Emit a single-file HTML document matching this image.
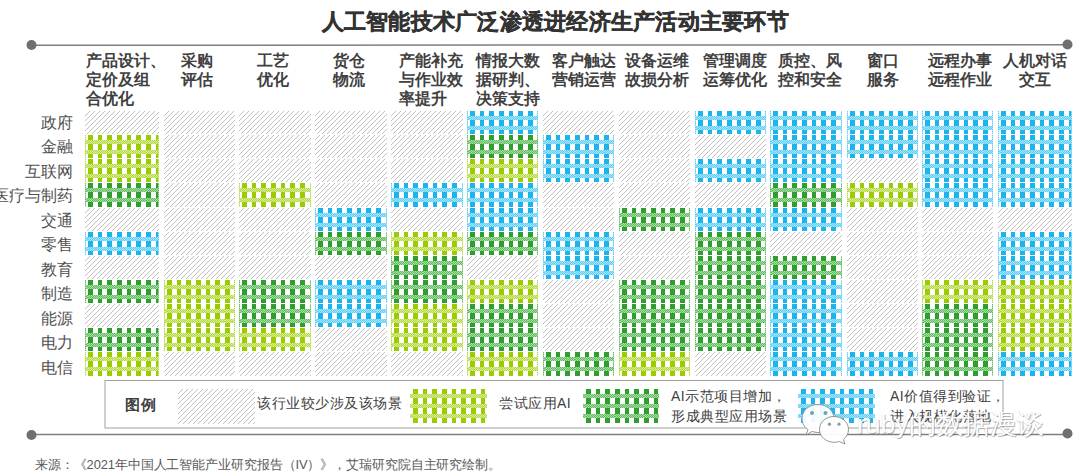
<!DOCTYPE html>
<html><head><meta charset="utf-8">
<style>
html,body{margin:0;padding:0;background:#fff;}
body{width:1080px;height:476px;position:relative;overflow:hidden;font-family:"Liberation Sans",sans-serif;}
.t{position:absolute;left:321.5px;top:7px;font-size:22px;letter-spacing:0.25px;font-weight:bold;color:#333;-webkit-text-stroke:0.4px #333;white-space:nowrap;line-height:30px;}
.hd{position:absolute;top:50.7px;font-size:15.6px;font-weight:bold;color:#404040;line-height:19.3px;white-space:nowrap;}
.rl{position:absolute;left:-19px;width:92px;text-align:right;font-size:15.5px;color:#505050;line-height:24px;white-space:nowrap;}
.lg{position:absolute;font-size:14px;letter-spacing:0.5px;color:#404040;white-space:nowrap;line-height:20px;}
.src{position:absolute;left:35px;top:456px;font-size:12.9px;letter-spacing:-0.1px;color:#595959;white-space:nowrap;line-height:18px;}
svg{position:absolute;left:0;top:0;}
.wm{position:absolute;left:857px;top:408px;font-size:26.5px;color:#fff;white-space:nowrap;line-height:32px;text-shadow:1px 1px 0 rgba(90,90,90,0.45),-0.5px 0 0 rgba(150,150,150,0.3);}
.logo{position:absolute;left:0;top:0;}
</style></head><body>
<svg width="1080" height="476" viewBox="0 0 1080 476">
<defs>
<pattern id="pg" patternUnits="userSpaceOnUse" width="5" height="5">
<rect width="5" height="5" fill="#fff"/>
<path d="M-1,1 l2,-2 M0,5 l5,-5 M4,6 l2,-2" stroke="#c0c0c0" stroke-width="1.0"/>
</pattern>
<pattern id="dpl" patternUnits="userSpaceOnUse" width="2" height="2">
<rect width="2" height="2" fill="#d8ee98"/><rect width="1" height="1" fill="#b4d844"/><rect x="1" y="1" width="1" height="1" fill="#b4d844"/>
</pattern>
<pattern id="pl" patternUnits="userSpaceOnUse" x="3" y="-5" width="29" height="10">
<rect width="29" height="10" fill="#fff"/>
<rect x="0" width="5" height="10" fill="#9ccc00"/>
<rect x="10" width="4" height="10" fill="#9ccc00"/>
<rect x="19" width="5" height="10" fill="#9ccc00"/>
<rect y="0" width="29" height="4" fill="url(#dpl)"/>
</pattern>
<pattern id="dpd" patternUnits="userSpaceOnUse" width="2" height="2">
<rect width="2" height="2" fill="#aadca6"/><rect width="1" height="1" fill="#64bc62"/><rect x="1" y="1" width="1" height="1" fill="#64bc62"/>
</pattern>
<pattern id="pd" patternUnits="userSpaceOnUse" x="3" y="-5" width="29" height="10">
<rect width="29" height="10" fill="#fff"/>
<rect x="0" width="5" height="10" fill="#2e9e2e"/>
<rect x="10" width="4" height="10" fill="#2e9e2e"/>
<rect x="19" width="5" height="10" fill="#2e9e2e"/>
<rect y="0" width="29" height="4" fill="url(#dpd)"/>
</pattern>
<pattern id="dpb" patternUnits="userSpaceOnUse" width="2" height="2">
<rect width="2" height="2" fill="#a6e5fa"/><rect width="1" height="1" fill="#62cdf4"/><rect x="1" y="1" width="1" height="1" fill="#62cdf4"/>
</pattern>
<pattern id="pb" patternUnits="userSpaceOnUse" x="3" y="-5" width="29" height="10">
<rect width="29" height="10" fill="#fff"/>
<rect x="0" width="5" height="10" fill="#1cb4ec"/>
<rect x="10" width="4" height="10" fill="#1cb4ec"/>
<rect x="19" width="5" height="10" fill="#1cb4ec"/>
<rect y="0" width="29" height="4" fill="url(#dpb)"/>
</pattern>
</defs>
<line x1="31" y1="45.3" x2="1067" y2="44.8" stroke="#7f7f7f" stroke-width="1.6"/>
<circle cx="31.5" cy="45" r="5" fill="#6f6f6f"/>
<circle cx="1067.5" cy="44.5" r="5" fill="#6f6f6f"/>
<g transform="translate(85,111)"><rect width="74" height="23" fill="url(#pg)"/></g>
<g transform="translate(85,135)"><rect width="74" height="23" fill="url(#pl)"/><rect width="1" height="23" fill="url(#dpl)"/><rect x="73" width="1" height="23" fill="url(#dpl)"/></g>
<g transform="translate(85,159)"><rect width="74" height="23" fill="url(#pl)"/><rect width="1" height="23" fill="url(#dpl)"/><rect x="73" width="1" height="23" fill="url(#dpl)"/></g>
<g transform="translate(85,183)"><rect width="74" height="24" fill="url(#pd)"/><rect width="1" height="24" fill="url(#dpd)"/><rect x="73" width="1" height="24" fill="url(#dpd)"/></g>
<g transform="translate(85,208)"><rect width="74" height="23" fill="url(#pg)"/></g>
<g transform="translate(85,232)"><rect width="74" height="23" fill="url(#pb)"/><rect width="1" height="23" fill="url(#dpb)"/><rect x="73" width="1" height="23" fill="url(#dpb)"/></g>
<g transform="translate(85,256)"><rect width="74" height="23" fill="url(#pg)"/></g>
<g transform="translate(85,280)"><rect width="74" height="23" fill="url(#pd)"/><rect width="1" height="23" fill="url(#dpd)"/><rect x="73" width="1" height="23" fill="url(#dpd)"/></g>
<g transform="translate(85,304)"><rect width="74" height="23" fill="url(#pg)"/></g>
<g transform="translate(85,328)"><rect width="74" height="23" fill="url(#pd)"/><rect width="1" height="23" fill="url(#dpd)"/><rect x="73" width="1" height="23" fill="url(#dpd)"/></g>
<g transform="translate(85,352)"><rect width="74" height="24" fill="url(#pl)"/><rect width="1" height="24" fill="url(#dpl)"/><rect x="73" width="1" height="24" fill="url(#dpl)"/></g>
<g transform="translate(164,111)"><rect width="71" height="23" fill="url(#pg)"/></g>
<g transform="translate(164,135)"><rect width="71" height="23" fill="url(#pg)"/></g>
<g transform="translate(164,159)"><rect width="71" height="23" fill="url(#pg)"/></g>
<g transform="translate(164,183)"><rect width="71" height="24" fill="url(#pg)"/></g>
<g transform="translate(164,208)"><rect width="71" height="23" fill="url(#pg)"/></g>
<g transform="translate(164,232)"><rect width="71" height="23" fill="url(#pg)"/></g>
<g transform="translate(164,256)"><rect width="71" height="23" fill="url(#pg)"/></g>
<g transform="translate(164,280)"><rect width="71" height="23" fill="url(#pl)"/><rect width="1" height="23" fill="url(#dpl)"/><rect x="70" width="1" height="23" fill="url(#dpl)"/></g>
<g transform="translate(164,304)"><rect width="71" height="23" fill="url(#pl)"/><rect width="1" height="23" fill="url(#dpl)"/><rect x="70" width="1" height="23" fill="url(#dpl)"/></g>
<g transform="translate(164,328)"><rect width="71" height="23" fill="url(#pl)"/><rect width="1" height="23" fill="url(#dpl)"/><rect x="70" width="1" height="23" fill="url(#dpl)"/></g>
<g transform="translate(164,352)"><rect width="71" height="24" fill="url(#pg)"/></g>
<g transform="translate(239,111)"><rect width="72" height="23" fill="url(#pg)"/></g>
<g transform="translate(239,135)"><rect width="72" height="23" fill="url(#pg)"/></g>
<g transform="translate(239,159)"><rect width="72" height="23" fill="url(#pg)"/></g>
<g transform="translate(239,183)"><rect width="72" height="24" fill="url(#pl)"/><rect width="1" height="24" fill="url(#dpl)"/><rect x="71" width="1" height="24" fill="url(#dpl)"/></g>
<g transform="translate(239,208)"><rect width="72" height="23" fill="url(#pg)"/></g>
<g transform="translate(239,232)"><rect width="72" height="23" fill="url(#pg)"/></g>
<g transform="translate(239,256)"><rect width="72" height="23" fill="url(#pg)"/></g>
<g transform="translate(239,280)"><rect width="72" height="23" fill="url(#pd)"/><rect width="1" height="23" fill="url(#dpd)"/><rect x="71" width="1" height="23" fill="url(#dpd)"/></g>
<g transform="translate(239,304)"><rect width="72" height="23" fill="url(#pd)"/><rect width="1" height="23" fill="url(#dpd)"/><rect x="71" width="1" height="23" fill="url(#dpd)"/></g>
<g transform="translate(239,328)"><rect width="72" height="23" fill="url(#pl)"/><rect width="1" height="23" fill="url(#dpl)"/><rect x="71" width="1" height="23" fill="url(#dpl)"/></g>
<g transform="translate(239,352)"><rect width="72" height="24" fill="url(#pg)"/></g>
<g transform="translate(315,111)"><rect width="72" height="23" fill="url(#pg)"/></g>
<g transform="translate(315,135)"><rect width="72" height="23" fill="url(#pg)"/></g>
<g transform="translate(315,159)"><rect width="72" height="23" fill="url(#pg)"/></g>
<g transform="translate(315,183)"><rect width="72" height="24" fill="url(#pg)"/></g>
<g transform="translate(315,208)"><rect width="72" height="23" fill="url(#pb)"/><rect width="1" height="23" fill="url(#dpb)"/><rect x="71" width="1" height="23" fill="url(#dpb)"/></g>
<g transform="translate(315,232)"><rect width="72" height="23" fill="url(#pd)"/><rect width="1" height="23" fill="url(#dpd)"/><rect x="71" width="1" height="23" fill="url(#dpd)"/></g>
<g transform="translate(315,256)"><rect width="72" height="23" fill="url(#pg)"/></g>
<g transform="translate(315,280)"><rect width="72" height="23" fill="url(#pb)"/><rect width="1" height="23" fill="url(#dpb)"/><rect x="71" width="1" height="23" fill="url(#dpb)"/></g>
<g transform="translate(315,304)"><rect width="72" height="23" fill="url(#pb)"/><rect width="1" height="23" fill="url(#dpb)"/><rect x="71" width="1" height="23" fill="url(#dpb)"/></g>
<g transform="translate(315,328)"><rect width="72" height="23" fill="url(#pg)"/></g>
<g transform="translate(315,352)"><rect width="72" height="24" fill="url(#pg)"/></g>
<g transform="translate(391,111)"><rect width="72" height="23" fill="url(#pg)"/></g>
<g transform="translate(391,135)"><rect width="72" height="23" fill="url(#pg)"/></g>
<g transform="translate(391,159)"><rect width="72" height="23" fill="url(#pg)"/></g>
<g transform="translate(391,183)"><rect width="72" height="24" fill="url(#pb)"/><rect width="1" height="24" fill="url(#dpb)"/><rect x="71" width="1" height="24" fill="url(#dpb)"/></g>
<g transform="translate(391,208)"><rect width="72" height="23" fill="url(#pg)"/></g>
<g transform="translate(391,232)"><rect width="72" height="23" fill="url(#pl)"/><rect width="1" height="23" fill="url(#dpl)"/><rect x="71" width="1" height="23" fill="url(#dpl)"/></g>
<g transform="translate(391,256)"><rect width="72" height="23" fill="url(#pd)"/><rect width="1" height="23" fill="url(#dpd)"/><rect x="71" width="1" height="23" fill="url(#dpd)"/></g>
<g transform="translate(391,280)"><rect width="72" height="23" fill="url(#pd)"/><rect width="1" height="23" fill="url(#dpd)"/><rect x="71" width="1" height="23" fill="url(#dpd)"/></g>
<g transform="translate(391,304)"><rect width="72" height="23" fill="url(#pl)"/><rect width="1" height="23" fill="url(#dpl)"/><rect x="71" width="1" height="23" fill="url(#dpl)"/></g>
<g transform="translate(391,328)"><rect width="72" height="23" fill="url(#pl)"/><rect width="1" height="23" fill="url(#dpl)"/><rect x="71" width="1" height="23" fill="url(#dpl)"/></g>
<g transform="translate(391,352)"><rect width="72" height="24" fill="url(#pg)"/></g>
<g transform="translate(467,111)"><rect width="71" height="23" fill="url(#pb)"/><rect width="1" height="23" fill="url(#dpb)"/><rect x="70" width="1" height="23" fill="url(#dpb)"/></g>
<g transform="translate(467,135)"><rect width="71" height="23" fill="url(#pd)"/><rect width="1" height="23" fill="url(#dpd)"/><rect x="70" width="1" height="23" fill="url(#dpd)"/></g>
<g transform="translate(467,159)"><rect width="71" height="23" fill="url(#pl)"/><rect width="1" height="23" fill="url(#dpl)"/><rect x="70" width="1" height="23" fill="url(#dpl)"/></g>
<g transform="translate(467,183)"><rect width="71" height="24" fill="url(#pb)"/><rect width="1" height="24" fill="url(#dpb)"/><rect x="70" width="1" height="24" fill="url(#dpb)"/></g>
<g transform="translate(467,208)"><rect width="71" height="23" fill="url(#pb)"/><rect width="1" height="23" fill="url(#dpb)"/><rect x="70" width="1" height="23" fill="url(#dpb)"/></g>
<g transform="translate(467,232)"><rect width="71" height="23" fill="url(#pd)"/><rect width="1" height="23" fill="url(#dpd)"/><rect x="70" width="1" height="23" fill="url(#dpd)"/></g>
<g transform="translate(467,256)"><rect width="71" height="23" fill="url(#pg)"/></g>
<g transform="translate(467,280)"><rect width="71" height="23" fill="url(#pl)"/><rect width="1" height="23" fill="url(#dpl)"/><rect x="70" width="1" height="23" fill="url(#dpl)"/></g>
<g transform="translate(467,304)"><rect width="71" height="23" fill="url(#pd)"/><rect width="1" height="23" fill="url(#dpd)"/><rect x="70" width="1" height="23" fill="url(#dpd)"/></g>
<g transform="translate(467,328)"><rect width="71" height="23" fill="url(#pd)"/><rect width="1" height="23" fill="url(#dpd)"/><rect x="70" width="1" height="23" fill="url(#dpd)"/></g>
<g transform="translate(467,352)"><rect width="71" height="24" fill="url(#pl)"/><rect width="1" height="24" fill="url(#dpl)"/><rect x="70" width="1" height="24" fill="url(#dpl)"/></g>
<g transform="translate(543,111)"><rect width="71" height="23" fill="url(#pg)"/></g>
<g transform="translate(543,135)"><rect width="71" height="23" fill="url(#pb)"/><rect width="1" height="23" fill="url(#dpb)"/><rect x="70" width="1" height="23" fill="url(#dpb)"/></g>
<g transform="translate(543,159)"><rect width="71" height="23" fill="url(#pb)"/><rect width="1" height="23" fill="url(#dpb)"/><rect x="70" width="1" height="23" fill="url(#dpb)"/></g>
<g transform="translate(543,183)"><rect width="71" height="24" fill="url(#pg)"/></g>
<g transform="translate(543,208)"><rect width="71" height="23" fill="url(#pg)"/></g>
<g transform="translate(543,232)"><rect width="71" height="23" fill="url(#pb)"/><rect width="1" height="23" fill="url(#dpb)"/><rect x="70" width="1" height="23" fill="url(#dpb)"/></g>
<g transform="translate(543,256)"><rect width="71" height="23" fill="url(#pb)"/><rect width="1" height="23" fill="url(#dpb)"/><rect x="70" width="1" height="23" fill="url(#dpb)"/></g>
<g transform="translate(543,280)"><rect width="71" height="23" fill="url(#pg)"/></g>
<g transform="translate(543,304)"><rect width="71" height="23" fill="url(#pg)"/></g>
<g transform="translate(543,328)"><rect width="71" height="23" fill="url(#pg)"/></g>
<g transform="translate(543,352)"><rect width="71" height="24" fill="url(#pd)"/><rect width="1" height="24" fill="url(#dpd)"/><rect x="70" width="1" height="24" fill="url(#dpd)"/></g>
<g transform="translate(619,111)"><rect width="71" height="23" fill="url(#pg)"/></g>
<g transform="translate(619,135)"><rect width="71" height="23" fill="url(#pg)"/></g>
<g transform="translate(619,159)"><rect width="71" height="23" fill="url(#pg)"/></g>
<g transform="translate(619,183)"><rect width="71" height="24" fill="url(#pg)"/></g>
<g transform="translate(619,208)"><rect width="71" height="23" fill="url(#pd)"/><rect width="1" height="23" fill="url(#dpd)"/><rect x="70" width="1" height="23" fill="url(#dpd)"/></g>
<g transform="translate(619,232)"><rect width="71" height="23" fill="url(#pg)"/></g>
<g transform="translate(619,256)"><rect width="71" height="23" fill="url(#pg)"/></g>
<g transform="translate(619,280)"><rect width="71" height="23" fill="url(#pd)"/><rect width="1" height="23" fill="url(#dpd)"/><rect x="70" width="1" height="23" fill="url(#dpd)"/></g>
<g transform="translate(619,304)"><rect width="71" height="23" fill="url(#pd)"/><rect width="1" height="23" fill="url(#dpd)"/><rect x="70" width="1" height="23" fill="url(#dpd)"/></g>
<g transform="translate(619,328)"><rect width="71" height="23" fill="url(#pd)"/><rect width="1" height="23" fill="url(#dpd)"/><rect x="70" width="1" height="23" fill="url(#dpd)"/></g>
<g transform="translate(619,352)"><rect width="71" height="24" fill="url(#pl)"/><rect width="1" height="24" fill="url(#dpl)"/><rect x="70" width="1" height="24" fill="url(#dpl)"/></g>
<g transform="translate(695,111)"><rect width="71" height="23" fill="url(#pb)"/><rect width="1" height="23" fill="url(#dpb)"/><rect x="70" width="1" height="23" fill="url(#dpb)"/></g>
<g transform="translate(695,135)"><rect width="71" height="23" fill="url(#pg)"/></g>
<g transform="translate(695,159)"><rect width="71" height="23" fill="url(#pb)"/><rect width="1" height="23" fill="url(#dpb)"/><rect x="70" width="1" height="23" fill="url(#dpb)"/></g>
<g transform="translate(695,183)"><rect width="71" height="24" fill="url(#pg)"/></g>
<g transform="translate(695,208)"><rect width="71" height="23" fill="url(#pb)"/><rect width="1" height="23" fill="url(#dpb)"/><rect x="70" width="1" height="23" fill="url(#dpb)"/></g>
<g transform="translate(695,232)"><rect width="71" height="23" fill="url(#pd)"/><rect width="1" height="23" fill="url(#dpd)"/><rect x="70" width="1" height="23" fill="url(#dpd)"/></g>
<g transform="translate(695,256)"><rect width="71" height="23" fill="url(#pd)"/><rect width="1" height="23" fill="url(#dpd)"/><rect x="70" width="1" height="23" fill="url(#dpd)"/></g>
<g transform="translate(695,280)"><rect width="71" height="23" fill="url(#pd)"/><rect width="1" height="23" fill="url(#dpd)"/><rect x="70" width="1" height="23" fill="url(#dpd)"/></g>
<g transform="translate(695,304)"><rect width="71" height="23" fill="url(#pd)"/><rect width="1" height="23" fill="url(#dpd)"/><rect x="70" width="1" height="23" fill="url(#dpd)"/></g>
<g transform="translate(695,328)"><rect width="71" height="23" fill="url(#pd)"/><rect width="1" height="23" fill="url(#dpd)"/><rect x="70" width="1" height="23" fill="url(#dpd)"/></g>
<g transform="translate(695,352)"><rect width="71" height="24" fill="url(#pg)"/></g>
<g transform="translate(770,111)"><rect width="72" height="23" fill="url(#pb)"/><rect width="1" height="23" fill="url(#dpb)"/><rect x="71" width="1" height="23" fill="url(#dpb)"/></g>
<g transform="translate(770,135)"><rect width="72" height="23" fill="url(#pb)"/><rect width="1" height="23" fill="url(#dpb)"/><rect x="71" width="1" height="23" fill="url(#dpb)"/></g>
<g transform="translate(770,159)"><rect width="72" height="23" fill="url(#pb)"/><rect width="1" height="23" fill="url(#dpb)"/><rect x="71" width="1" height="23" fill="url(#dpb)"/></g>
<g transform="translate(770,183)"><rect width="72" height="24" fill="url(#pd)"/><rect width="1" height="24" fill="url(#dpd)"/><rect x="71" width="1" height="24" fill="url(#dpd)"/></g>
<g transform="translate(770,208)"><rect width="72" height="23" fill="url(#pb)"/><rect width="1" height="23" fill="url(#dpb)"/><rect x="71" width="1" height="23" fill="url(#dpb)"/></g>
<g transform="translate(770,232)"><rect width="72" height="23" fill="url(#pg)"/></g>
<g transform="translate(770,256)"><rect width="72" height="23" fill="url(#pd)"/><rect width="1" height="23" fill="url(#dpd)"/><rect x="71" width="1" height="23" fill="url(#dpd)"/></g>
<g transform="translate(770,280)"><rect width="72" height="23" fill="url(#pb)"/><rect width="1" height="23" fill="url(#dpb)"/><rect x="71" width="1" height="23" fill="url(#dpb)"/></g>
<g transform="translate(770,304)"><rect width="72" height="23" fill="url(#pb)"/><rect width="1" height="23" fill="url(#dpb)"/><rect x="71" width="1" height="23" fill="url(#dpb)"/></g>
<g transform="translate(770,328)"><rect width="72" height="23" fill="url(#pb)"/><rect width="1" height="23" fill="url(#dpb)"/><rect x="71" width="1" height="23" fill="url(#dpb)"/></g>
<g transform="translate(770,352)"><rect width="72" height="24" fill="url(#pb)"/><rect width="1" height="24" fill="url(#dpb)"/><rect x="71" width="1" height="24" fill="url(#dpb)"/></g>
<g transform="translate(847,111)"><rect width="71" height="23" fill="url(#pb)"/><rect width="1" height="23" fill="url(#dpb)"/><rect x="70" width="1" height="23" fill="url(#dpb)"/></g>
<g transform="translate(847,135)"><rect width="71" height="23" fill="url(#pb)"/><rect width="1" height="23" fill="url(#dpb)"/><rect x="70" width="1" height="23" fill="url(#dpb)"/></g>
<g transform="translate(847,159)"><rect width="71" height="23" fill="url(#pg)"/></g>
<g transform="translate(847,183)"><rect width="71" height="24" fill="url(#pl)"/><rect width="1" height="24" fill="url(#dpl)"/><rect x="70" width="1" height="24" fill="url(#dpl)"/></g>
<g transform="translate(847,208)"><rect width="71" height="23" fill="url(#pg)"/></g>
<g transform="translate(847,232)"><rect width="71" height="23" fill="url(#pg)"/></g>
<g transform="translate(847,256)"><rect width="71" height="23" fill="url(#pg)"/></g>
<g transform="translate(847,280)"><rect width="71" height="23" fill="url(#pg)"/></g>
<g transform="translate(847,304)"><rect width="71" height="23" fill="url(#pg)"/></g>
<g transform="translate(847,328)"><rect width="71" height="23" fill="url(#pg)"/></g>
<g transform="translate(847,352)"><rect width="71" height="24" fill="url(#pb)"/><rect width="1" height="24" fill="url(#dpb)"/><rect x="70" width="1" height="24" fill="url(#dpb)"/></g>
<g transform="translate(922,111)"><rect width="71" height="23" fill="url(#pb)"/><rect width="1" height="23" fill="url(#dpb)"/><rect x="70" width="1" height="23" fill="url(#dpb)"/></g>
<g transform="translate(922,135)"><rect width="71" height="23" fill="url(#pb)"/><rect width="1" height="23" fill="url(#dpb)"/><rect x="70" width="1" height="23" fill="url(#dpb)"/></g>
<g transform="translate(922,159)"><rect width="71" height="23" fill="url(#pb)"/><rect width="1" height="23" fill="url(#dpb)"/><rect x="70" width="1" height="23" fill="url(#dpb)"/></g>
<g transform="translate(922,183)"><rect width="71" height="24" fill="url(#pb)"/><rect width="1" height="24" fill="url(#dpb)"/><rect x="70" width="1" height="24" fill="url(#dpb)"/></g>
<g transform="translate(922,208)"><rect width="71" height="23" fill="url(#pg)"/></g>
<g transform="translate(922,232)"><rect width="71" height="23" fill="url(#pg)"/></g>
<g transform="translate(922,256)"><rect width="71" height="23" fill="url(#pg)"/></g>
<g transform="translate(922,280)"><rect width="71" height="23" fill="url(#pl)"/><rect width="1" height="23" fill="url(#dpl)"/><rect x="70" width="1" height="23" fill="url(#dpl)"/></g>
<g transform="translate(922,304)"><rect width="71" height="23" fill="url(#pd)"/><rect width="1" height="23" fill="url(#dpd)"/><rect x="70" width="1" height="23" fill="url(#dpd)"/></g>
<g transform="translate(922,328)"><rect width="71" height="23" fill="url(#pd)"/><rect width="1" height="23" fill="url(#dpd)"/><rect x="70" width="1" height="23" fill="url(#dpd)"/></g>
<g transform="translate(922,352)"><rect width="71" height="24" fill="url(#pd)"/><rect width="1" height="24" fill="url(#dpd)"/><rect x="70" width="1" height="24" fill="url(#dpd)"/></g>
<g transform="translate(998,111)"><rect width="74" height="23" fill="url(#pb)"/><rect width="1" height="23" fill="url(#dpb)"/><rect x="73" width="1" height="23" fill="url(#dpb)"/></g>
<g transform="translate(998,135)"><rect width="74" height="23" fill="url(#pb)"/><rect width="1" height="23" fill="url(#dpb)"/><rect x="73" width="1" height="23" fill="url(#dpb)"/></g>
<g transform="translate(998,159)"><rect width="74" height="23" fill="url(#pb)"/><rect width="1" height="23" fill="url(#dpb)"/><rect x="73" width="1" height="23" fill="url(#dpb)"/></g>
<g transform="translate(998,183)"><rect width="74" height="24" fill="url(#pb)"/><rect width="1" height="24" fill="url(#dpb)"/><rect x="73" width="1" height="24" fill="url(#dpb)"/></g>
<g transform="translate(998,208)"><rect width="74" height="23" fill="url(#pg)"/></g>
<g transform="translate(998,232)"><rect width="74" height="23" fill="url(#pb)"/><rect width="1" height="23" fill="url(#dpb)"/><rect x="73" width="1" height="23" fill="url(#dpb)"/></g>
<g transform="translate(998,256)"><rect width="74" height="23" fill="url(#pb)"/><rect width="1" height="23" fill="url(#dpb)"/><rect x="73" width="1" height="23" fill="url(#dpb)"/></g>
<g transform="translate(998,280)"><rect width="74" height="23" fill="url(#pl)"/><rect width="1" height="23" fill="url(#dpl)"/><rect x="73" width="1" height="23" fill="url(#dpl)"/></g>
<g transform="translate(998,304)"><rect width="74" height="23" fill="url(#pl)"/><rect width="1" height="23" fill="url(#dpl)"/><rect x="73" width="1" height="23" fill="url(#dpl)"/></g>
<g transform="translate(998,328)"><rect width="74" height="23" fill="url(#pl)"/><rect width="1" height="23" fill="url(#dpl)"/><rect x="73" width="1" height="23" fill="url(#dpl)"/></g>
<g transform="translate(998,352)"><rect width="74" height="24" fill="url(#pb)"/><rect width="1" height="24" fill="url(#dpb)"/><rect x="73" width="1" height="24" fill="url(#dpb)"/></g>
<rect x="105" y="380.5" width="898" height="47.5" fill="#fff" stroke="#a0a0a0" stroke-width="1"/>
<g transform="translate(178,389)"><rect width="77" height="35" fill="url(#pg)"/></g>
<g transform="translate(410,389)"><rect width="77" height="34" fill="url(#pl)"/></g>
<g transform="translate(583,389)"><rect width="76" height="34" fill="url(#pd)"/></g>
<g transform="translate(798,389)"><rect width="77" height="34" fill="url(#pb)"/></g>
<line x1="31" y1="434.5" x2="1067" y2="434.5" stroke="#7f7f7f" stroke-width="1.6"/>
<circle cx="31.5" cy="435" r="5" fill="#6f6f6f"/>
<circle cx="1067.5" cy="433.5" r="5" fill="#6f6f6f"/>
</svg>
<div class="t">人工智能技术广泛渗透进经济生产活动主要环节</div>
<div class="hd" style="left:86px">产品设计、<br>定价及组<br>合优化</div>
<div class="hd" style="left:181px">采购<br>评估</div>
<div class="hd" style="left:257px">工艺<br>优化</div>
<div class="hd" style="left:333px">货仓<br>物流</div>
<div class="hd" style="left:398.5px">产能补充<br>与作业效<br>率提升</div>
<div class="hd" style="left:475.5px">情报大数<br>据研判、<br>决策支持</div>
<div class="hd" style="left:551.5px">客户触达<br>营销运营</div>
<div class="hd" style="left:624.5px">设备运维<br>故损分析</div>
<div class="hd" style="left:703px">管理调度<br>运筹优化</div>
<div class="hd" style="left:777.5px">质控、风<br>控和安全</div>
<div class="hd" style="left:867px">窗口<br>服务</div>
<div class="hd" style="left:928px">远程办事<br>远程作业</div>
<div class="hd" style="left:1002.5px;width:64px;text-align:center">人机对话<br>交互</div>
<div class="rl" style="top:111.00px">政府</div>
<div class="rl" style="top:135.46px">金融</div>
<div class="rl" style="top:159.92px">互联网</div>
<div class="rl" style="top:184.38px">医疗与制药</div>
<div class="rl" style="top:208.84px">交通</div>
<div class="rl" style="top:233.30px">零售</div>
<div class="rl" style="top:257.76px">教育</div>
<div class="rl" style="top:282.22px">制造</div>
<div class="rl" style="top:306.68px">能源</div>
<div class="rl" style="top:331.14px">电力</div>
<div class="rl" style="top:355.60px">电信</div>
<div class="lg" style="left:125px;top:395px;font-weight:bold;font-size:15px;">图例</div>
<div class="lg" style="left:257px;top:393px;">该行业较少涉及该场景</div>
<div class="lg" style="left:499px;top:393px;">尝试应用AI</div>
<div class="lg" style="left:671px;top:386px;">AI示范项目增加，<br>形成典型应用场景</div>
<div class="lg" style="left:890px;top:386px;">AI价值得到验证，<br>进入规模化落地</div>
<div class="src">来源：《2021年中国人工智能产业研究报告（IV）》，艾瑞研究院自主研究绘制。</div>
<div class="wm">ruby的数据漫谈</div>
<svg class="logo" width="1080" height="476" viewBox="0 0 1080 476">
<path d="M818,404.5 C827,404.5 834,410.5 834,418.5 C834,426.5 827,432.5 818,432.5 C816,432.5 814,432 812,431.5 L806,435 L808,429.5 C804,427 802,423 802,418.5 C802,410.5 809,404.5 818,404.5 Z" fill="#fff" fill-opacity="0.92" stroke="#8a8a8a" stroke-width="0.9"/>
<circle cx="812" cy="413" r="2" fill="#6aa8a8"/><circle cx="825.5" cy="413" r="2" fill="#6aa8a8"/>
<path d="M834,416.5 C842,416.5 848.5,422 848.5,429.5 C848.5,433.5 846.5,437 843.5,439.5 L845,444 L839.5,441.5 C837.8,442 836,442.3 834,442.3 C826,442.3 819.5,436.5 819.5,429.5 C819.5,422 826,416.5 834,416.5 Z" fill="#fff" fill-opacity="0.95" stroke="#8a8a8a" stroke-width="0.9"/>
<circle cx="829.4" cy="424.2" r="1.6" fill="#8a9a9a"/><circle cx="839" cy="424.2" r="1.6" fill="#8a9a9a"/>
</svg>
</body></html>
